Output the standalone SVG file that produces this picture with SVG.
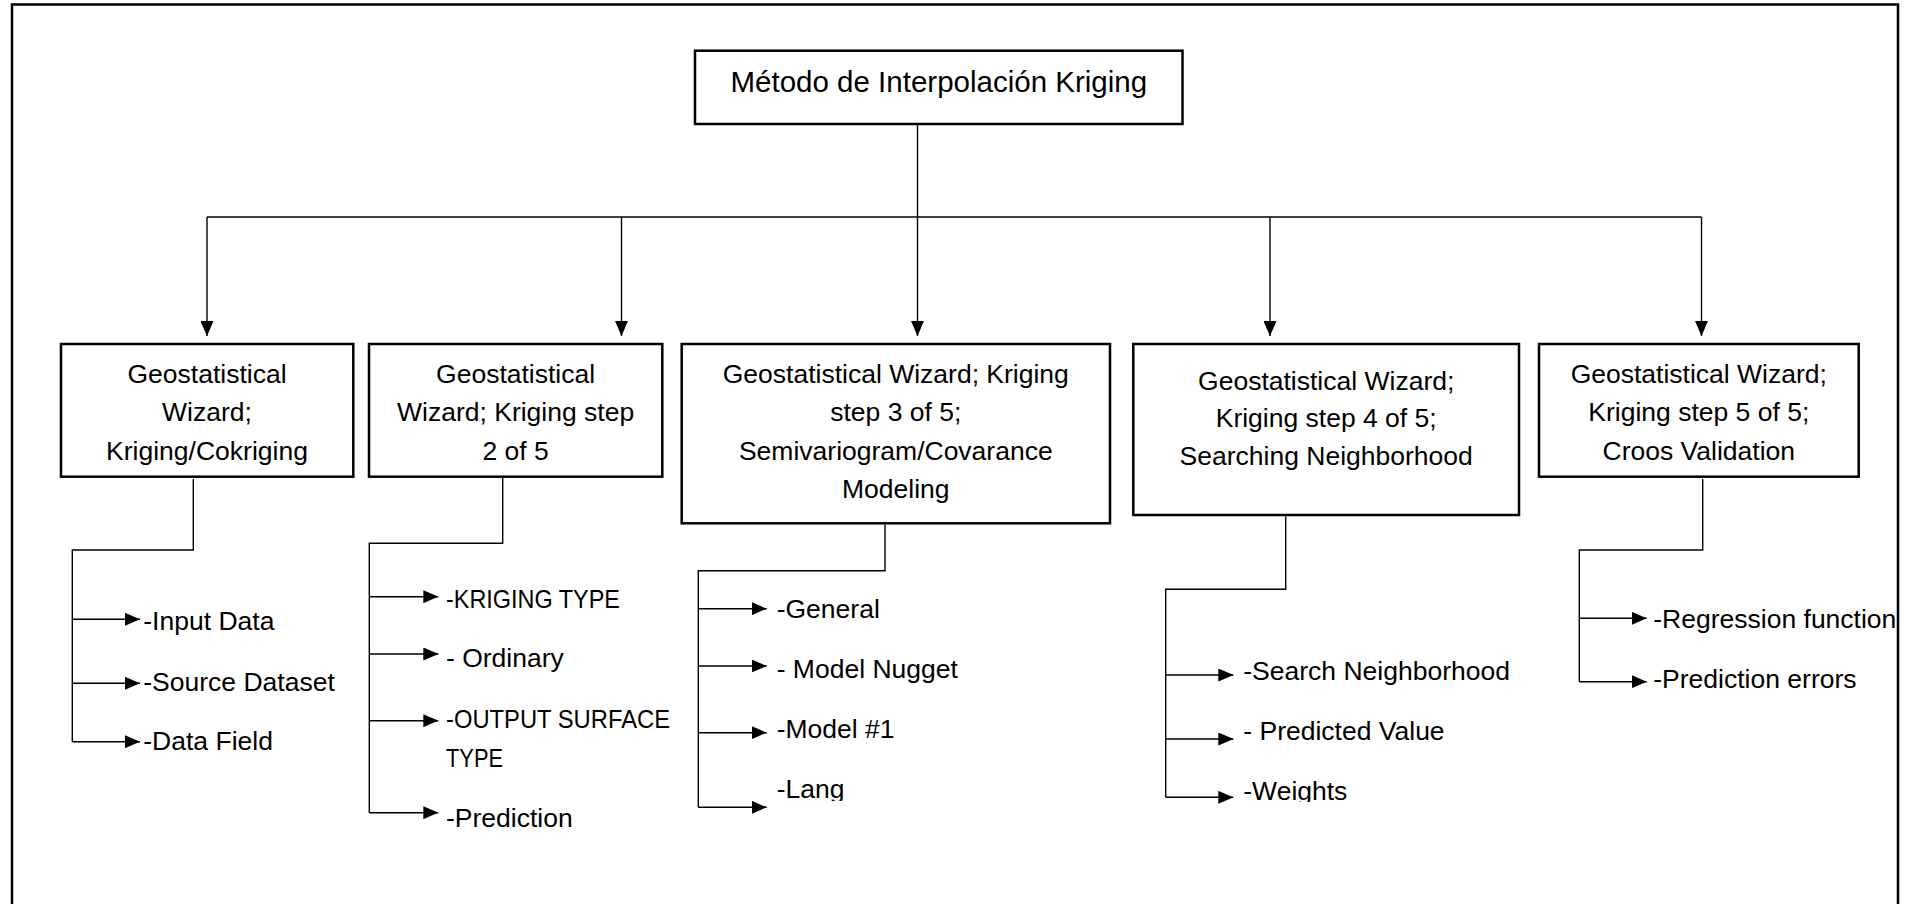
<svg xmlns="http://www.w3.org/2000/svg" width="1919" height="904" viewBox="0 0 1919 904">
<style>
  .box{fill:#fff;stroke:#000;stroke-width:2.5}
  .frame{fill:none;stroke:#000;stroke-width:2.5}
  .c{fill:none;stroke:#000;stroke-width:1.4}
  .t{font-family:"Liberation Sans",Arial,sans-serif;font-size:26.5px;fill:#000}
  .m{text-anchor:middle}
  .title{font-family:"Liberation Sans",Arial,sans-serif;font-size:29.5px;fill:#000;text-anchor:middle}
</style>
<defs>
  <marker id="ah" viewBox="0 0 15 13" markerWidth="15" markerHeight="13" refX="15" refY="6.5" orient="auto" markerUnits="userSpaceOnUse">
    <path d="M0,0 L15,6.5 L0,13 Z" fill="#000"/>
  </marker>
  <clipPath id="clipLang"><rect x="760" y="760" width="200" height="41"/></clipPath>
  <clipPath id="clipWeights"><rect x="1230" y="760" width="200" height="42"/></clipPath>
</defs>
<rect width="1919" height="904" fill="#fff"/>
<path class="frame" d="M12,910 V4.5 H1898 V910"/>

<g id="connectors">
  <path class="c" d="M917.5,124 V217"/>
  <path class="c" d="M207,217 H1701.5"/>
  <path class="c" d="M207,217 V336" marker-end="url(#ah)"/>
  <path class="c" d="M621.5,217 V336" marker-end="url(#ah)"/>
  <path class="c" d="M917.5,217 V336" marker-end="url(#ah)"/>
  <path class="c" d="M1270,217 V336" marker-end="url(#ah)"/>
  <path class="c" d="M1701.5,217 V336" marker-end="url(#ah)"/>

  <path class="c" d="M193.3,479 V550 H72.3 V741.7"/>
  <path class="c" d="M72.3,619.3 H140" marker-end="url(#ah)"/>
  <path class="c" d="M72.3,683.3 H140" marker-end="url(#ah)"/>
  <path class="c" d="M72.3,741.7 H140" marker-end="url(#ah)"/>

  <path class="c" d="M502.7,478 V543.3 H369.3 V812.7"/>
  <path class="c" d="M369.3,596.7 H438.3" marker-end="url(#ah)"/>
  <path class="c" d="M369.3,654 H438.3" marker-end="url(#ah)"/>
  <path class="c" d="M369.3,720.7 H438.3" marker-end="url(#ah)"/>
  <path class="c" d="M369.3,812.7 H438.3" marker-end="url(#ah)"/>

  <path class="c" d="M885,524.5 V570.7 H698.3 V807.3"/>
  <path class="c" d="M698.3,608.7 H766.7" marker-end="url(#ah)"/>
  <path class="c" d="M698.3,666 H766.7" marker-end="url(#ah)"/>
  <path class="c" d="M698.3,732.7 H766.7" marker-end="url(#ah)"/>
  <path class="c" d="M698.3,807.3 H766.7" marker-end="url(#ah)"/>

  <path class="c" d="M1285.7,516.5 V589.3 H1165.7 V797.3"/>
  <path class="c" d="M1165.7,675 H1233.3" marker-end="url(#ah)"/>
  <path class="c" d="M1165.7,739 H1233.3" marker-end="url(#ah)"/>
  <path class="c" d="M1165.7,797.3 H1233.3" marker-end="url(#ah)"/>

  <path class="c" d="M1702.7,479 V550 H1579.3 V681.7"/>
  <path class="c" d="M1579.3,618.3 H1646.7" marker-end="url(#ah)"/>
  <path class="c" d="M1579.3,681.7 H1646.7" marker-end="url(#ah)"/>
</g>

<g id="root">
  <rect class="box" x="695" y="50.7" width="487.5" height="73.3"/>
  <text class="title" x="938.8" y="91.7">Método de Interpolación Kriging</text>
</g>

<g id="step1">
  <rect class="box" x="61" y="344" width="292.3" height="132.7"/>
  <text class="t m" x="207" y="383.3">Geostatistical</text>
  <text class="t m" x="207" y="421">Wizard;</text>
  <text class="t m" x="207" y="460">Kriging/Cokriging</text>
</g>
<g id="step2">
  <rect class="box" x="369" y="344" width="293.3" height="132.7"/>
  <text class="t m" x="515.6" y="383.3">Geostatistical</text>
  <text class="t m" x="515.6" y="421">Wizard; Kriging step</text>
  <text class="t m" x="515.6" y="460">2 of 5</text>
</g>
<g id="step3">
  <rect class="box" x="681.7" y="344" width="428.3" height="179.3"/>
  <text class="t m" x="895.8" y="383.3">Geostatistical Wizard; Kriging</text>
  <text class="t m" x="895.8" y="421">step 3 of 5;</text>
  <text class="t m" x="895.8" y="460">Semivariogram/Covarance</text>
  <text class="t m" x="895.8" y="498.3">Modeling</text>
</g>
<g id="step4">
  <rect class="box" x="1133.3" y="344" width="385.7" height="171"/>
  <text class="t m" x="1326.2" y="390">Geostatistical Wizard;</text>
  <text class="t m" x="1326.2" y="427">Kriging step 4 of 5;</text>
  <text class="t m" x="1326.2" y="465">Searching Neighborhood</text>
</g>
<g id="step5">
  <rect class="box" x="1539" y="344" width="319.7" height="132.7"/>
  <text class="t m" x="1698.8" y="383.3">Geostatistical Wizard;</text>
  <text class="t m" x="1698.8" y="421">Kriging step 5 of 5;</text>
  <text class="t m" x="1698.8" y="460">Croos Validation</text>
</g>

<g id="items1">
  <text class="t" x="143.3" y="630">-Input Data</text>
  <text class="t" x="143.3" y="690.7">-Source Dataset</text>
  <text class="t" x="143.3" y="750">-Data Field</text>
</g>
<g id="items2">
  <text class="t" x="446" y="608.3" textLength="174" lengthAdjust="spacingAndGlyphs">-KRIGING TYPE</text>
  <text class="t" x="446" y="667.3">- Ordinary</text>
  <text class="t" x="446" y="728.3" textLength="224" lengthAdjust="spacingAndGlyphs">-OUTPUT SURFACE</text>
  <text class="t" x="446" y="767.3" textLength="57" lengthAdjust="spacingAndGlyphs">TYPE</text>
  <text class="t" x="446" y="826.7">-Prediction</text>
</g>
<g id="items3">
  <text class="t" x="776.7" y="618.3">-General</text>
  <text class="t" x="776.7" y="678.3">- Model Nugget</text>
  <text class="t" x="776.7" y="738.3">-Model #1</text>
  <text class="t" x="776.7" y="798.3" clip-path="url(#clipLang)">-Lang</text>
</g>
<g id="items4">
  <text class="t" x="1243.3" y="680">-Search Neighborhood</text>
  <text class="t" x="1243.3" y="740">- Predicted Value</text>
  <text class="t" x="1243.3" y="800" clip-path="url(#clipWeights)">-Weights</text>
</g>
<g id="items5">
  <text class="t" x="1653.3" y="628.3">-Regression function</text>
  <text class="t" x="1653.3" y="688.3">-Prediction errors</text>
</g>
</svg>
